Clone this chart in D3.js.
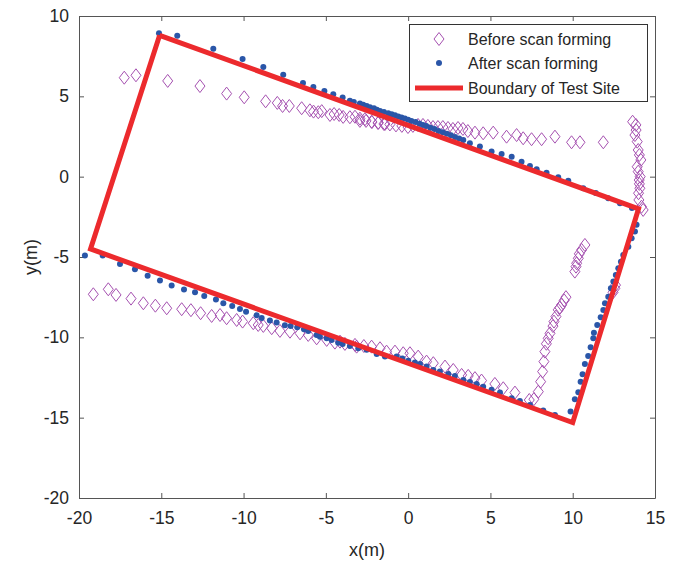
<!DOCTYPE html>
<html>
<head>
<meta charset="utf-8">
<script src="https://cdn.jsdelivr.net/npm/d3@7"></script>
<style>
  body { margin: 0; background: #fff; }
  text { font-family: "Liberation Sans", Arial, Helvetica, sans-serif; fill: #262626; }
</style>
</head>
<body>
<div id="main"></div>
<script>
const ctx = {
    w: 686,
    h: 562,
    left: 79, right: 31, top: 16, bottom: 64
};

// axis ticks
const xTicks = [-20, -15, -10, -5, 0, 5, 10, 15];
const yTicks = [-20, -15, -10, -5, 0, 5, 10];

const legendLabels = ["Before scan forming", "After scan forming", "Boundary of Test Site"];

// test site boundary corners (closed)
const boundary = [[-15.1, 8.8], [14.0, -2.0], [10.0, -15.3], [-19.3, -4.5], [-15.1, 8.8]];

// points after scan forming
const afterScan = [
  // left / bottom side
  [-19.64,-4.91],[-18.56,-4.91],[-17.51,-5.43],[-16.60,-5.76],[-15.83,-6.16],[-15.08,-6.47],
  [-14.37,-6.78],[-13.62,-7.03],[-12.95,-7.19],[-12.39,-7.42],[-11.68,-7.65],[-11.23,-7.88],
  [-10.69,-8.05],[-10.22,-8.23],[-9.85,-8.40],[-9.21,-8.63],[-8.90,-8.79],[-8.40,-8.96],
  [-7.99,-9.08],[-7.49,-9.25],[-7.14,-9.29],[-6.74,-9.37],[-6.33,-9.50],[-6.07,-9.60],
  [-5.56,-9.85],[-5.36,-9.96],[-4.95,-10.06],[-4.65,-10.16],[-4.25,-10.33],[-3.98,-10.41],
  [-3.54,-10.54],[-3.03,-10.68],[-2.52,-10.78],[-1.91,-11.03],[-1.41,-11.20],[-0.70,-11.20],
  [-0.35,-11.32],[0.01,-11.45],[0.41,-11.57],[0.72,-11.66],[1.12,-11.82],[1.53,-12.03],
  [1.93,-12.13],[2.44,-12.28],[2.84,-12.40],[3.35,-12.65],[3.75,-12.78],[4.16,-12.90],
  [4.56,-13.07],[5.07,-13.27],[5.58,-13.44],[6.29,-13.79],[6.79,-13.96],[7.40,-14.21],
  [8.21,-14.56],[8.92,-14.83],[9.87,-14.62],
  // right side
  [10.13,-13.85],[10.34,-13.42],[10.48,-12.76],[10.60,-12.30],[10.74,-11.66],[10.94,-11.16],
  [11.09,-10.62],[11.25,-10.06],[11.29,-9.71],[11.49,-9.23],[11.70,-8.75],[11.86,-8.30],
  [11.96,-7.88],[12.16,-7.47],[12.32,-6.95],[12.47,-6.53],[12.62,-6.12],[12.77,-5.70],
  [12.93,-5.29],[13.07,-4.87],[13.38,-4.36],[13.58,-3.83],[13.78,-3.42],[13.88,-3.00],
  // top side
  [-15.14,8.92],[-14.03,8.77],[-11.84,7.96],[-10.06,7.32],[-8.80,6.83],[-7.59,6.35],
  [-6.39,5.83],[-5.76,5.58],[-5.09,5.33],[-4.55,5.13],[-3.98,4.92],[-3.54,4.73],
  [-3.30,4.65],[-2.93,4.55],[-2.73,4.48],[-2.52,4.40],[-2.32,4.32],[-2.08,4.26],
  [-1.90,4.17],[-1.71,4.09],[-1.47,4.03],[-1.21,3.95],[-1.00,3.88],[-0.80,3.82],
  [-0.60,3.74],[-0.40,3.68],[-0.20,3.62],[0.00,3.55],[0.20,3.47],[0.45,3.40],
  [0.70,3.30],[0.90,3.22],[1.10,3.15],[1.35,3.05],[1.60,2.96],[1.85,2.85],
  [2.10,2.76],[2.35,2.67],[2.60,2.58],[2.85,2.47],[3.10,2.38],[3.35,2.28],
  [3.75,2.08],[4.36,1.87],[5.07,1.56],[5.68,1.41],[6.29,1.24],[6.89,0.93],
  [7.40,0.67],[7.81,0.46],[8.41,0.25],[9.12,-0.04],[9.73,-0.25],[10.64,-0.72],
  [11.40,-1.02],[12.16,-1.34],[12.87,-1.66],[13.60,-1.95]
];

// points before scan forming
const beforeScan = [
  // top band
  [-17.25,6.16],[-16.54,6.31],[-14.61,5.96],[-12.65,5.64],[-11.03,5.17],[-9.96,4.94],
  [-8.66,4.69],[-7.95,4.59],[-7.63,4.40],[-7.22,4.40],[-6.47,4.26],[-5.97,4.13],
  [-5.75,4.05],[-5.46,4.01],[-5.25,4.08],[-4.75,3.84],[-4.50,3.90],[-4.19,3.84],
  [-3.95,3.72],[-3.54,3.70],[-3.23,3.73],[-2.93,3.61],[-2.62,3.58],[-2.22,3.42],
  [-1.81,3.36],[-1.41,3.28],[-2.93,3.47],[-2.56,3.47],[-2.20,3.40],[-1.83,3.34],
  [-1.47,3.28],[-1.11,3.25],[-0.74,3.19],[-0.38,3.16],[-0.01,3.09],[0.29,3.16],
  [0.60,3.22],[0.90,3.22],[1.20,3.16],[1.51,3.09],[1.81,3.09],[2.11,3.09],
  [2.42,3.03],[2.72,2.97],[3.03,3.03],[3.33,2.97],[3.63,2.84],[4.06,2.74],
  [4.56,2.70],[5.17,2.74],[5.98,2.49],[6.59,2.59],[6.99,2.39],[7.50,2.33],
  [8.11,2.33],[8.92,2.49],[9.93,2.14],[10.44,2.14],[11.86,2.14],
  // right column
  [13.64,3.42],[13.84,3.22],[13.85,2.90],[13.78,2.59],[13.92,2.18],[13.98,1.66],
  [14.05,1.35],[14.14,1.04],[13.92,0.62],[13.98,0.31],[14.10,0.00],[14.04,-0.21],
  [14.05,-0.45],[14.08,-0.72],[14.00,-1.03],[14.02,-1.45],[14.18,-1.87],[14.28,-2.07],
  // inner cluster
  [10.74,-4.25],[10.54,-4.56],[10.40,-4.80],[10.34,-5.08],[10.24,-5.39],[10.20,-5.60],
  [10.13,-5.91],[12.60,-6.75],[12.56,-6.95],[12.45,-7.20],
  // lower chain
  [9.59,-7.50],[9.48,-7.70],[9.33,-7.98],[9.22,-8.15],[9.12,-8.29],[8.98,-8.71],
  [8.86,-9.02],[8.80,-9.30],[8.62,-9.75],[8.51,-10.06],[8.40,-10.40],[8.31,-10.89],
  [8.25,-11.51],[8.17,-12.13],[8.05,-12.76],[7.91,-13.38],[7.64,-13.85],[7.36,-13.90],
  // bottom band
  [-19.13,-7.32],[-18.22,-7.01],[-17.75,-7.36],[-16.84,-7.59],[-16.09,-7.88],[-15.36,-8.03],
  [-14.67,-8.19],[-13.76,-8.25],[-13.20,-8.31],[-12.61,-8.50],[-11.94,-8.67],[-11.43,-8.61],
  [-11.03,-8.81],[-10.42,-8.92],[-10.06,-9.02],[-9.41,-9.12],[-9.11,-9.23],[-8.80,-9.29],
  [-8.29,-9.43],[-7.79,-9.60],[-7.18,-9.65],[-6.57,-9.75],[-6.07,-9.85],[-5.56,-10.06],
  [-4.95,-10.16],[-4.45,-10.33],[-4.14,-10.27],[-3.84,-10.41],[-3.23,-10.47],[-3.13,-10.58],
  [-2.69,-10.54],[-2.22,-10.58],[-1.71,-10.68],[-1.31,-10.89],[-0.80,-10.89],[-0.30,-10.99],
  [0.11,-10.99],[0.61,-11.20],[1.12,-11.51],[1.53,-11.61],[2.24,-11.82],[2.74,-12.03],
  [3.25,-12.34],[3.65,-12.40],[4.06,-12.54],[4.46,-12.69],[5.27,-12.90],[5.78,-13.17],
  [6.49,-13.44]
];

const colors = { before: "#a550b0", after: "#2a56a8", boundary: "#ec2a2d", axis: "#555" };

function diamond(cx, cy) {
    return `M${cx},${cy - 6.5}L${cx + 5},${cy}L${cx},${cy + 6.5}L${cx - 5},${cy}Z`;
}

function createViz() {
    const svg = d3.select("#main").append("svg")
        .attr("width", ctx.w).attr("height", ctx.h);

    const x = d3.scaleLinear().domain([-20, 15]).range([ctx.left, ctx.w - ctx.right]);
    const y = d3.scaleLinear().domain([-20, 10]).range([ctx.h - ctx.bottom, ctx.top]);
    const x0 = x.range()[0], x1 = x.range()[1], y0 = y.range()[0], y1 = y.range()[1];

    // axes (inner ticks, mirrored like the box)
    const fmt = d => d3.format("d")(d).replace("−", "-");
    svg.append("g").attr("transform", `translate(0,${y0})`)
       .call(d3.axisBottom(x).tickValues(xTicks).tickSizeInner(-5).tickSizeOuter(0).tickPadding(14).tickFormat(fmt));
    svg.append("g").attr("transform", `translate(0,${y1})`)
       .call(d3.axisTop(x).tickValues(xTicks).tickSizeInner(-5).tickSizeOuter(0).tickFormat(""));
    svg.append("g").attr("transform", `translate(${x0},0)`)
       .call(d3.axisLeft(y).tickValues(yTicks).tickSizeInner(-5).tickSizeOuter(0).tickPadding(10).tickFormat(fmt));
    svg.append("g").attr("transform", `translate(${x1},0)`)
       .call(d3.axisRight(y).tickValues(yTicks).tickSizeInner(-5).tickSizeOuter(0).tickFormat(""));
    svg.selectAll(".domain, .tick line").attr("stroke", colors.axis).attr("stroke-width", 1);
    svg.selectAll(".tick text").attr("fill", "#262626")
       .style("font-size", "17.5px").style("font-family", "'Liberation Sans', Arial, sans-serif");

    // axis titles
    svg.append("text").attr("x", (x0 + x1) / 2).attr("y", 556)
       .attr("text-anchor", "middle").style("font-size", "18px").text("x(m)");
    svg.append("text").attr("transform", `translate(37,${(y0 + y1) / 2}) rotate(-90)`)
       .attr("text-anchor", "middle").style("font-size", "18px").text("y(m)");

    // before scan forming
    svg.append("g").selectAll("path").data(beforeScan).enter().append("path")
       .attr("d", d => diamond(x(d[0]), y(d[1])))
       .attr("fill", "none").attr("stroke", colors.before).attr("stroke-width", 1);

    // after scan forming
    svg.append("g").selectAll("circle").data(afterScan).enter().append("circle")
       .attr("cx", d => x(d[0])).attr("cy", d => y(d[1])).attr("r", 3)
       .attr("fill", colors.after);

    // boundary
    svg.append("path").datum(boundary)
       .attr("d", d3.line().x(d => x(d[0])).y(d => y(d[1])))
       .attr("fill", "none").attr("stroke", colors.boundary)
       .attr("stroke-width", 5).attr("stroke-linejoin", "miter");

    // legend
    const lg = svg.append("g");
    lg.append("rect").attr("x", 409.5).attr("y", 24.5).attr("width", 238).attr("height", 77)
      .attr("fill", "#fff").attr("stroke", "#333").attr("stroke-width", 1);
    const rows = [39, 63, 88];
    lg.append("path").attr("d", diamond(439, rows[0]))
      .attr("fill", "none").attr("stroke", colors.before).attr("stroke-width", 1);
    lg.append("circle").attr("cx", 439).attr("cy", rows[1]).attr("r", 3).attr("fill", colors.after);
    lg.append("line").attr("x1", 415).attr("x2", 463).attr("y1", rows[2]).attr("y2", rows[2])
      .attr("stroke", colors.boundary).attr("stroke-width", 5);
    lg.selectAll("text.lab").data(legendLabels).enter().append("text")
      .attr("class", "lab").attr("x", 468).attr("y", (d, i) => rows[i] + 6)
      .style("font-size", "16px").text(d => d);
}

createViz();
</script>
</body>
</html>
